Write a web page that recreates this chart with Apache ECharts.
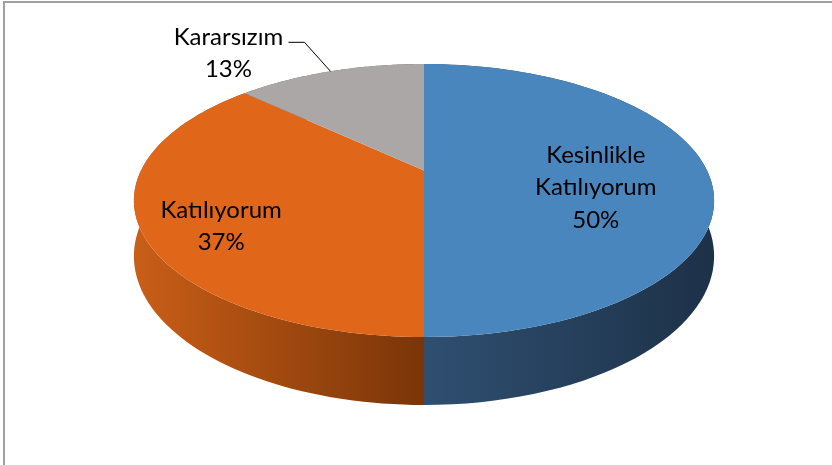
<!DOCTYPE html>
<html>
<head>
<meta charset="utf-8">
<script src="https://cdn.jsdelivr.net/npm/echarts@6/dist/echarts.min.js"></script>
<style>html,body{margin:0;padding:0;background:#fff}#c{width:832px;height:465px}</style>
</head>
<body>
<div id="c"></div>
<script>
// ---- data ----
const categories = ['Kesinlikle\nKatılıyorum', 'Katılıyorum', 'Kararsızım'];
const values = [50, 37, 13];
const percentLabels = ['50%', '37%', '13%'];

// ---- styles ----
const topColors = ['#4A86BE', '#E0661A', '#ABA7A6'];
const wallColors = [['#2F4F71', '#1D3148'], ['#C95E17', '#7A3508'], ['#7a7776', '#5f5c5b']];
const FONT = 'Lato, "Open Sans", sans-serif';
const FS = 24;

// ---- geometry of the 3D pie ----
const CX = 424, CY = 170.5, R = 283, B = 129.9, A = 0.22, H = 53;
function proj(theta, frac, down) {
  const s = 1 / (1 + A * Math.cos(theta));
  return [CX + R * frac * Math.sin(theta) * s, CY - B * frac * Math.cos(theta) * s + down * s];
}
const total = values.reduce((a, b) => a + b, 0);

const chart = echarts.init(document.getElementById('c'));

function renderItem(params, api) {
  const i = params.dataIndex;
  let before = 0;
  for (let k = 0; k < i; k++) before += values[k];
  const v = api.value(1);
  const t0 = before / total * Math.PI * 2;
  const t1 = (before + v) / total * Math.PI * 2;
  const N = 80;
  const topPts = [[CX, CY]];
  const wallTop = [], wallBot = [];
  for (let n = 0; n <= N; n++) {
    const t = t0 + (t1 - t0) * n / N;
    topPts.push(proj(t, 1, 0));
    wallTop.push(proj(t, 1, 0));
    wallBot.push(proj(t, 1, H));
  }
  const wallPts = wallTop.concat(wallBot.reverse());
  let xmin = Infinity, xmax = -Infinity;
  wallPts.forEach(p => { xmin = Math.min(xmin, p[0]); xmax = Math.max(xmax, p[0]); });
  const wc = wallColors[i];
  const grad = { type: 'linear', x: xmin, y: 0, x2: xmax, y2: 0, global: true, colorStops: [{ offset: 0, color: wc[0] }, { offset: 1, color: wc[1] }] };

  const children = [
    { type: 'polygon', z2: 1, shape: { points: wallPts }, style: { fill: grad } },
    { type: 'polygon', z2: 10, shape: { points: topPts }, style: { fill: topColors[i] } }
  ];
  const mid = (t0 + t1) / 2;
  const text = categories[i] + '\n' + percentLabels[i];
  if (v / total > 0.2) {
    const p = proj(mid, 0.66, 17);
    children.push({ type: 'text', z2: 20, style: { text: text, x: p[0] - 15, y: p[1], fill: '#000', fontSize: FS, fontFamily: FONT, align: 'center', verticalAlign: 'middle', lineHeight: 32.5 } });
  } else {
    const a = proj(mid, 1, 0);
    const e = [a[0] - 26, a[1] - 29];
    const f = [e[0] - 16, e[1]];
    children.push({ type: 'polyline', z2: 20, shape: { points: [a, e, f] }, style: { stroke: '#000', lineWidth: 1, fill: null } });
    children.push({ type: 'text', z2: 20, style: { text: text, x: f[0] - 60, y: f[1] + 11, fill: '#000', fontSize: FS, fontFamily: FONT, align: 'center', verticalAlign: 'middle', lineHeight: 32.5 } });
  }
  return { type: 'group', children: children };
}

chart.setOption({
  animation: false,
  backgroundColor: '#fff',
  graphic: [{ type: 'rect', shape: { x: 4, y: 2, width: 1000, height: 1000 }, style: { fill: null, stroke: '#A0A0A0', lineWidth: 2 }, z: -1 }],
  series: [{
    type: 'custom',
    coordinateSystem: 'none',
    renderItem: renderItem,
    data: values.map((v, i) => ({ name: categories[i], value: [i, v] }))
  }]
});
</script>
</body>
</html>
